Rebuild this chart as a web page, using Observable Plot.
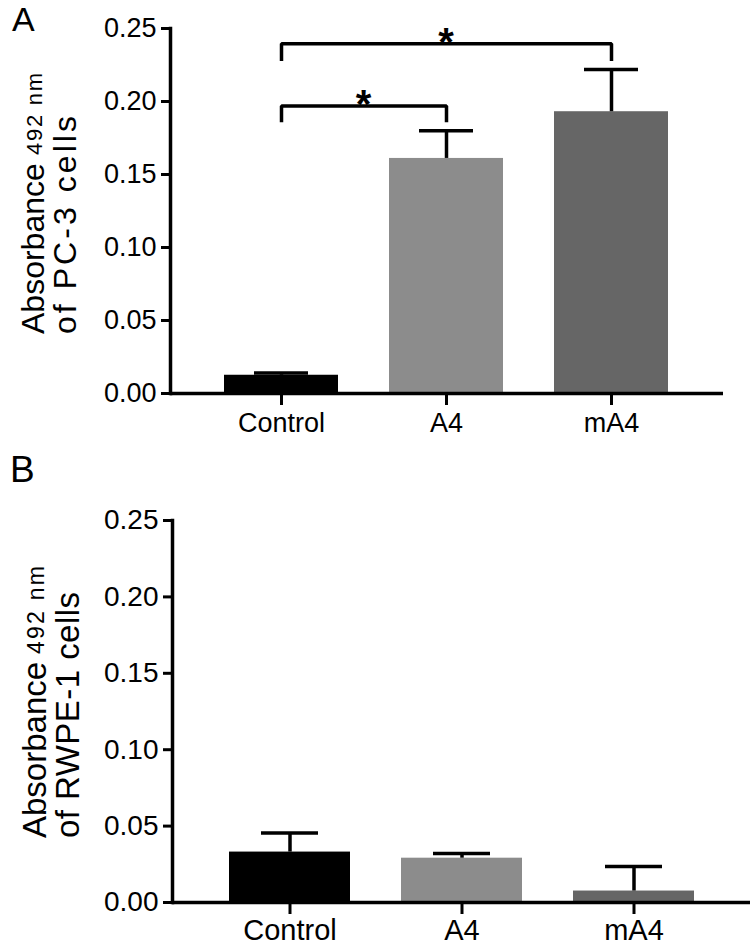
<!DOCTYPE html>
<html><head><meta charset="utf-8">
<script src="https://cdn.jsdelivr.net/npm/d3@7"></script>
<script src="https://cdn.jsdelivr.net/npm/@observablehq/plot@0.6"></script>
<style>
body{margin:0;background:#fff;font-family:"Liberation Sans",Arial,sans-serif;}
#chart{position:relative;width:750px;height:945px;overflow:hidden;}
#chart svg{position:absolute;left:0;display:block;}
</style></head><body><div id="chart"></div>
<script>
const categories = ["Control", "A4", "mA4"];
const barColors = ["#000000", "#8c8c8c", "#666666"];
const yTicks = [0, 0.05, 0.10, 0.15, 0.20, 0.25];
// Panel A: PC-3 cells
const meansA = [0.0125, 0.161, 0.193];
const semA = [0.0015, 0.019, 0.029];
// Panel B: RWPE-1 cells
const meansB = [0.033, 0.029, 0.0075];
const semB = [0.0125, 0.003, 0.016];
// significance brackets (panel A)
const bracketFrom = ["Control", "Control"];
const bracketTo = ["A4", "mA4"];
const bracketLow = [0.187, 0.229];
const bracketHigh = [0.197, 0.2395];
const bracketLabel = ["*", "*"];

const FONT = "Liberation Sans, Arial, Helvetica, sans-serif";

function panel(cfg) {
  const data = categories.map((c, i) => ({cat: c, mean: cfg.means[i], sem: cfg.sems[i]}));
  const pts = [];
  (cfg.brackets || []).forEach((b, i) => {
    pts.push({id: i, cat: b.from, y: b.low});
    pts.push({id: i, cat: b.from, y: b.high});
    pts.push({id: i, cat: b.to, y: b.high});
    pts.push({id: i, cat: b.to, y: b.low});
  });
  const sw = 3.5;
  const plot = Plot.plot({
    width: 750, height: cfg.height,
    marginTop: cfg.mt, marginBottom: cfg.mb, marginLeft: cfg.ml, marginRight: cfg.mr,
    style: {fontFamily: FONT, color: "#000", background: "transparent", overflow: "visible"},
    x: {domain: categories, paddingInner: cfg.pi, paddingOuter: cfg.po, label: null},
    y: {domain: [0, 0.25], label: null},
    color: {domain: categories, range: barColors},
    marks: [
      Plot.barY(data, {x: "cat", y: "mean", fill: "cat"}),
      Plot.ruleX(data, {x: "cat", y1: "mean", y2: d => d.mean + d.sem, stroke: "#000", strokeWidth: sw}),
      Plot.tickY(data, {x: "cat", y: d => d.mean + d.sem, stroke: "#000", strokeWidth: sw, insetLeft: cfg.capInset, insetRight: cfg.capInset}),
      Plot.line(pts, {x: "cat", y: "y", z: "id", stroke: "#000", strokeWidth: sw, strokeLinejoin: "miter", strokeLinecap: "square"}),
      Plot.ruleY([0], {stroke: "#000", strokeWidth: sw}),
      Plot.frame({anchor: "left", stroke: "#000", strokeWidth: sw}),
      Plot.axisY({ticks: yTicks, tickFormat: d3.format(".2f"), tickSize: 9, tickPadding: 5, fontSize: cfg.tickFont, strokeWidth: 3, label: null}),
      Plot.axisX({tickSize: 12, tickPadding: cfg.catPad, fontSize: cfg.catFont, strokeWidth: 3, label: null})
    ]
  });
  const svg = d3.select(plot);
  const xs = plot.scale("x"), ys = plot.scale("y");
  const cx = c => xs.apply(c) + xs.bandwidth / 2;
  (cfg.brackets || []).forEach(b => {
    svg.append("text")
      .attr("x", (cx(b.from) + cx(b.to)) / 2)
      .attr("y", ys.apply(b.high) + 13)
      .attr("text-anchor", "middle")
      .attr("font-family", FONT).attr("font-weight", "bold").attr("font-size", 40)
      .attr("fill", "#000").text(b.label);
  });
  // panel letter
  svg.append("text").attr("x", cfg.letterX).attr("y", cfg.letterY)
    .attr("text-anchor", "start")
    .attr("font-family", FONT).attr("font-size", cfg.letterFont).attr("fill", "#000").text(cfg.letter);
  // y label, line 1: "Absorbance" + subscript "492 nm"
  svg.append("text")
    .attr("transform", `translate(${cfg.l1x},${cfg.ly}) rotate(-90)`)
    .attr("text-anchor", "start")
    .attr("font-family", FONT).attr("font-size", cfg.labFont).attr("fill", "#000")
    .text("Absorbance");
  const sub = svg.append("text")
    .attr("transform", `translate(${cfg.l1x - 2},${cfg.ly - cfg.absLen - 8}) rotate(-90)`)
    .attr("text-anchor", "start")
    .attr("font-family", FONT).attr("font-size", cfg.subFont).attr("fill", "#000")
    .text("492 nm");
  if (cfg.subLen) sub.attr("textLength", cfg.subLen).attr("lengthAdjust", "spacing");
  const l2 = svg.append("text")
    .attr("transform", `translate(${cfg.l2x},${cfg.ly}) rotate(-90)`)
    .attr("text-anchor", "start")
    .attr("font-family", FONT).attr("font-size", cfg.labFont).attr("fill", "#000")
    .text(cfg.line2);
  if (cfg.l2Len) l2.attr("textLength", cfg.l2Len).attr("lengthAdjust", "spacing");
  plot.style.top = cfg.top + "px";
  return plot;
}

const root = document.getElementById("chart");
root.appendChild(panel({
  top: 0, height: 440, mt: 28, mb: 47, ml: 170, mr: 27, pi: 0.307, po: 0.322, capInset: 30,
  means: meansA, sems: semA,
  brackets: bracketFrom.map((f, i) => ({from: f, to: bracketTo[i], low: bracketLow[i], high: bracketHigh[i], label: bracketLabel[i]})),
  tickFont: 27, catFont: 27, catPad: 7, labFont: 32, subFont: 22, absLen: 171, subLen: 82, l2Len: 218,
  letter: "A", letterX: 12, letterY: 31, letterFont: 34,
  l1x: 44, l2x: 76, ly: 334, line2: "of PC-3 cells"
}));
root.appendChild(panel({
  top: 440, height: 505, mt: 80, mb: 43, ml: 172, mr: 0, pi: 0.2986, po: 0.325, capInset: 32,
  means: meansB, sems: semB, brackets: [],
  tickFont: 28, catFont: 29, catPad: 5, labFont: 33, subFont: 23, absLen: 176, subLen: 88, l2Len: 246,
  letter: "B", letterX: 10, letterY: 42, letterFont: 37,
  l1x: 46, l2x: 79, ly: 398, line2: "of RWPE-1 cells"
}));
</script></body></html>
